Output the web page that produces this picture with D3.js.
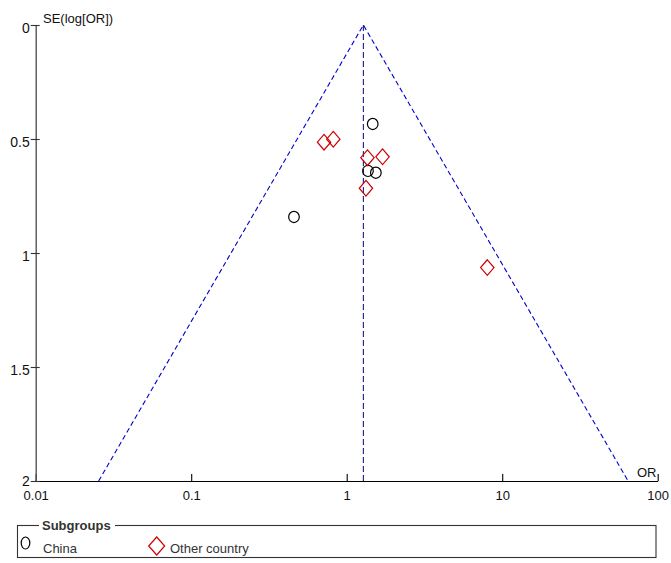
<!DOCTYPE html>
<html><head><meta charset="utf-8">
<script src="https://cdn.jsdelivr.net/npm/d3@7"></script>
<style>body{margin:0;background:#fff}svg{display:block}text{font-family:"Liberation Sans",Arial,sans-serif}</style>
</head><body>
<script>
const chinaOR = [1.47, 1.37, 1.54, 0.458];
const chinaSE = [0.434, 0.640, 0.648, 0.842];
const otherOR = [0.715, 0.82, 1.36, 1.70, 1.33, 8.02];
const otherSE = [0.514, 0.501, 0.582, 0.578, 0.716, 1.064];
const pooledOR = 1.28;
const xTicks = [0.01, 0.1, 1, 10, 100];
const xTickLabels = ["0.01", "0.1", "1", "10", "100"];
const yTicks = [0, 0.5, 1, 1.5, 2];
const yTickLabels = ["0", "0.5", "1", "1.5", "2"];
const legendLabels = ["China", "Other country"];

const W = 671, H = 563;
const svg = d3.select("body").append("svg").attr("width", W).attr("height", H);
const x = d3.scaleLog().domain([0.01, 100]).range([35.7, 657.7]);
const y = d3.scaleLinear().domain([0, 2]).range([25, 481]);
const blue = "#0000cc", red = "#cc0000";

// funnel
const lp = Math.log(pooledOR);
const seMax = 2;
const funnel = [[Math.exp(lp - 1.96 * seMax), seMax], [pooledOR, 0], [Math.exp(lp + 1.96 * seMax), seMax]];
svg.append("path")
  .attr("d", d3.line().x(d => x(d[0])).y(d => y(d[1]))(funnel))
  .attr("fill", "none").attr("stroke", blue).attr("stroke-width", 1.1)
  .attr("stroke-dasharray", "5,3");
svg.append("line")
  .attr("x1", x(pooledOR)).attr("x2", x(pooledOR)).attr("y1", y(0)).attr("y2", y(2))
  .attr("stroke", "#1a1a80").attr("stroke-width", 1.1).attr("stroke-dasharray", "6,3");

// x axis
const xAxis = svg.append("g").attr("transform", `translate(0,${y(2)})`)
  .call(d3.axisTop(x).tickValues(xTicks).tickFormat((d, i) => xTickLabels[i]).tickSizeInner(7).tickSizeOuter(0));
xAxis.select(".domain").attr("stroke", "#000").attr("stroke-width", 1.2);
xAxis.selectAll(".tick line").attr("stroke", "#000").attr("stroke-width", 1.1);
xAxis.selectAll(".tick text").attr("y", 19).attr("font-size", 13).attr("fill", "#111")
  .attr("font-family", "Liberation Sans, Arial, sans-serif");

// y axis
const yAxis = svg.append("g").attr("transform", `translate(${x(0.01)},0)`)
  .call(d3.axisLeft(y).tickValues(yTicks).tickFormat((d, i) => yTickLabels[i]).tickSizeInner(5).tickSizeOuter(0));
yAxis.select(".domain").attr("stroke", "#555").attr("stroke-width", 1.4);
yAxis.selectAll(".tick line").attr("x1", 4).attr("x2", -5).attr("stroke", "#333").attr("stroke-width", 1.1);
yAxis.selectAll(".tick text").attr("x", -6).attr("dy", d => d === 2 ? "0.3em" : "0.5em").attr("font-size", 14).attr("fill", "#111")
  .attr("font-family", "Liberation Sans, Arial, sans-serif");

svg.append("text").attr("x", 43).attr("y", 23).attr("font-size", 13).attr("fill", "#111").text("SE(log[OR])");
svg.append("text").attr("x", 637).attr("y", 477).attr("font-size", 13).attr("fill", "#111").text("OR");

// points
const diamond = (cx, cy, hw, hh) => `M${cx},${cy - hh}L${cx + hw},${cy}L${cx},${cy + hh}L${cx - hw},${cy}Z`;
svg.append("g").selectAll("ellipse").data(chinaOR.map((d, i) => [d, chinaSE[i]])).join("ellipse")
  .attr("cx", d => x(d[0])).attr("cy", d => y(d[1])).attr("rx", 5.3).attr("ry", 5.6)
  .attr("fill", "none").attr("stroke", "#000").attr("stroke-width", 1.2);
svg.append("g").selectAll("path").data(otherOR.map((d, i) => [d, otherSE[i]])).join("path")
  .attr("d", d => diamond(x(d[0]), y(d[1]), 6.7, 7.8))
  .attr("fill", "none").attr("stroke", red).attr("stroke-width", 1.2);

// legend
const lg = svg.append("g");
lg.append("rect").attr("x", 17.5).attr("y", 525.5).attr("width", 638.5).attr("height", 32)
  .attr("fill", "none").attr("stroke", "#333").attr("stroke-width", 1.1);
lg.append("rect").attr("x", 39).attr("y", 518).attr("width", 76).attr("height", 14).attr("fill", "#fff");
lg.append("text").attr("x", 42).attr("y", 530).attr("font-size", 13).attr("font-weight", "bold").attr("fill", "#333").text("Subgroups");
lg.append("ellipse").attr("cx", 25.5).attr("cy", 543).attr("rx", 4.3).attr("ry", 6)
  .attr("fill", "none").attr("stroke", "#000").attr("stroke-width", 1.2);
lg.append("text").attr("x", 43).attr("y", 553).attr("font-size", 13).attr("fill", "#333").text(legendLabels[0]);
lg.append("path").attr("d", diamond(156.7, 546, 8, 9)).attr("fill", "none").attr("stroke", red).attr("stroke-width", 1.2);
lg.append("text").attr("x", 170).attr("y", 553).attr("font-size", 13).attr("fill", "#333").text(legendLabels[1]);
</script>
</body></html>
